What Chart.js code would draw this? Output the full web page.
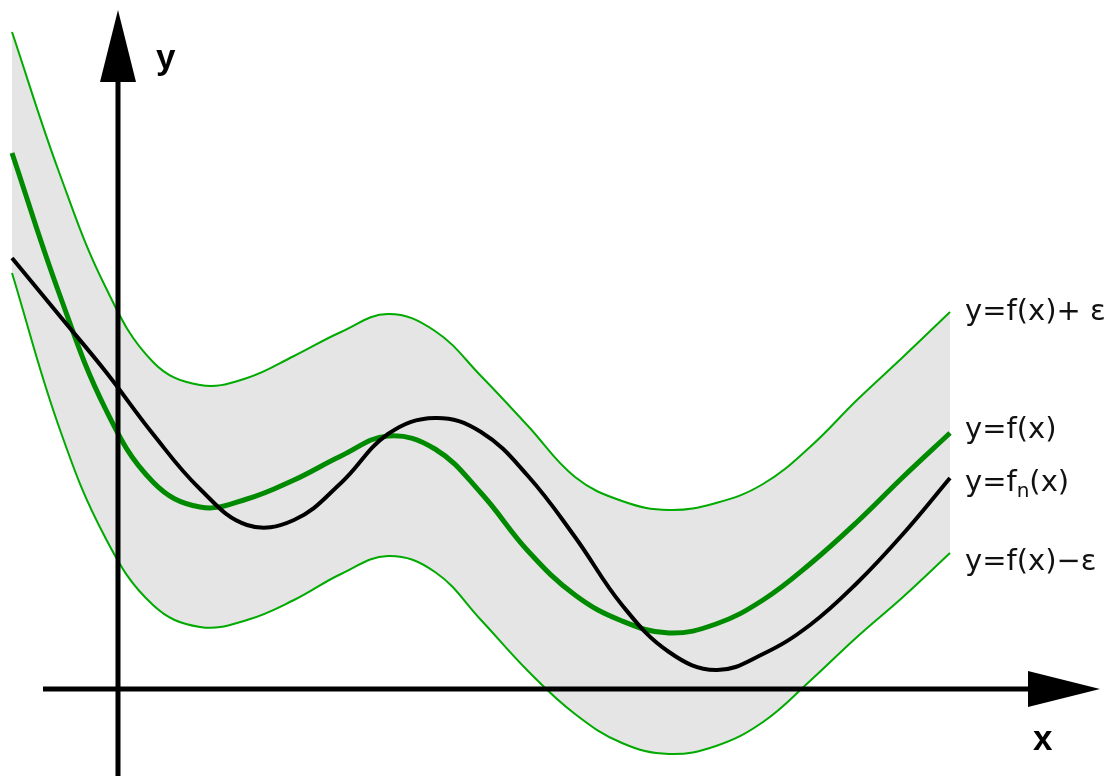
<!DOCTYPE html>
<html>
<head>
<meta charset="utf-8">
<script src="https://cdn.jsdelivr.net/npm/chart.js@4.4.1/dist/chart.umd.min.js"></script>
<style>
  html, body { margin: 0; padding: 0; background: #fff; }
  #wrap { width: 1112px; height: 776px; position: relative; }
</style>
</head>
<body>
<div id="wrap"><canvas id="chart"></canvas></div>
<script>
// samples, in axis units (origin where the axes cross)
const xs = [-1.06, -0.59, -0.12, 0.35, 0.82, 1.29, 1.76, 2.23, 2.70, 3.17, 3.63, 4.10, 4.57, 5.04, 5.51, 5.98, 6.45, 6.92, 7.39, 7.85, 8.32];

const fValues = [5.36, 3.96, 2.79, 2.07, 1.82, 1.90, 2.09, 2.33, 2.53, 2.40, 1.96, 1.38, 0.94, 0.68, 0.56, 0.65, 0.89, 1.25, 1.67, 2.12, 2.56];
const fnValues = [4.31, 3.74, 3.17, 2.55, 2.00, 1.64, 1.69, 2.06, 2.55, 2.71, 2.57, 2.13, 1.52, 0.84, 0.37, 0.19, 0.35, 0.64, 1.06, 1.55, 2.11];
const upperValues = [6.57, 5.17, 4.01, 3.27, 3.04, 3.11, 3.33, 3.57, 3.75, 3.58, 3.13, 2.63, 2.12, 1.88, 1.79, 1.86, 2.05, 2.42, 2.89, 3.32, 3.77];
const lowerValues = [4.16, 2.62, 1.50, 0.84, 0.62, 0.69, 0.89, 1.15, 1.33, 1.17, 0.69, 0.18, -0.25, -0.54, -0.65, -0.57, -0.33, 0.08, 0.52, 0.92, 1.36];

const curveLabels = ["y=f(x)+ \u03b5", "y=f(x)", "y=f_n(x)", "y=f(x)\u2212\u03b5"];

const toPoints = (ys) => xs.map((x, i) => ({ x: x, y: ys[i] }));

// axes with arrow heads, drawn over the curves
const axesPlugin = {
  id: "axes",
  afterDatasetsDraw(chart) {
    const ctx = chart.ctx;
    const ox = chart.scales.x.getPixelForValue(0);
    const oy = chart.scales.y.getPixelForValue(0);
    ctx.save();
    ctx.strokeStyle = "#000";
    ctx.fillStyle = "#000";
    ctx.lineWidth = 5;
    ctx.beginPath();
    ctx.moveTo(43, oy);
    ctx.lineTo(1030, oy);
    ctx.moveTo(ox, chart.height);
    ctx.lineTo(ox, 80);
    ctx.stroke();
    // x arrow
    ctx.beginPath();
    ctx.moveTo(1028, oy - 18);
    ctx.lineTo(1100, oy);
    ctx.lineTo(1028, oy + 18);
    ctx.closePath();
    ctx.fill();
    // y arrow
    ctx.beginPath();
    ctx.moveTo(ox - 18, 82);
    ctx.lineTo(ox, 10);
    ctx.lineTo(ox + 18, 82);
    ctx.closePath();
    ctx.fill();

    ctx.font = "bold 35px 'Liberation Sans', Arial, sans-serif";
    ctx.textBaseline = "alphabetic";
    ctx.fillText("y", ox + 38, 69);
    ctx.fillText("x", 1033, 750);
    ctx.restore();
  },
};

// curve names next to the right ends
const labelPlugin = {
  id: "curveNames",
  afterDraw(chart) {
    const ctx = chart.ctx;
    const order = [2, 1, 0, 3];
    const dy = [0, -3, 5, 9];
    ctx.save();
    ctx.fillStyle = "#111";
    ctx.textBaseline = "middle";
    const font = "29px 'DejaVu Sans', sans-serif";
    order.forEach((di, k) => {
      const pts = chart.getDatasetMeta(di).data;
      const last = pts[pts.length - 1];
      let x = last.x + 15;
      const y = last.y + dy[k];
      const txt = curveLabels[k];
      ctx.font = font;
      if (txt.includes("_")) {
        const [a, rest] = txt.split("_");
        ctx.fillText(a, x, y);
        x += ctx.measureText(a).width;
        ctx.font = "20px 'DejaVu Sans', sans-serif";
        ctx.fillText(rest[0], x, y + 9);
        x += ctx.measureText(rest[0]).width;
        ctx.font = font;
        ctx.fillText(rest.slice(1), x, y);
      } else {
        ctx.fillText(txt, x, y);
      }
    });
    ctx.restore();
  },
};

new Chart(document.getElementById("chart"), {
  type: "line",
  data: {
    datasets: [
      {
        label: "fn",
        data: toPoints(fnValues),
        borderColor: "#000000",
        borderWidth: 4,
        fill: false,
      },
      {
        label: "f",
        data: toPoints(fValues),
        borderColor: "#008a00",
        borderWidth: 5,
        fill: false,
      },
      {
        label: "f+eps",
        data: toPoints(upperValues),
        borderColor: "#00aa00",
        borderWidth: 2,
        backgroundColor: "#e5e5e5",
        fill: "+1",
      },
      {
        label: "f-eps",
        data: toPoints(lowerValues),
        borderColor: "#00aa00",
        borderWidth: 2,
        fill: false,
      },
    ],
  },
  options: {
    responsive: true,
    maintainAspectRatio: false,
    animation: false,
    layout: { padding: 0 },
    elements: {
      point: { radius: 0, hoverRadius: 0 },
      line: { tension: 0.4, borderCapStyle: "butt", borderJoinStyle: "round" },
    },
    scales: {
      x: { type: "linear", min: -1.18, max: 9.94, display: false },
      y: { type: "linear", min: -0.87, max: 6.89, display: false },
    },
    plugins: {
      legend: { display: false },
      tooltip: { enabled: false },
      filler: { drawTime: "beforeDatasetsDraw" },
    },
  },
  plugins: [axesPlugin, labelPlugin],
});
</script>
</body>
</html>
